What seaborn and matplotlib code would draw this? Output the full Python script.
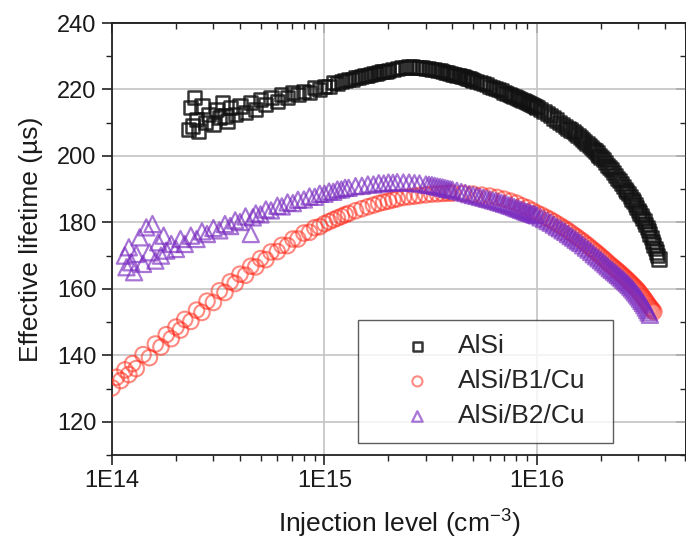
import numpy as np
import pandas as pd
import matplotlib
matplotlib.use("Agg")
import matplotlib.pyplot as plt
from matplotlib.ticker import MultipleLocator, NullFormatter, FixedLocator
import seaborn as sns

# ---------------- data ----------------
alsi_x = [2.30e14, 2.35e14, 2.40e14, 2.45e14, 2.50e14, 2.55e14, 2.65e14, 2.75e14, 2.85e14,
          3.0e14, 3.1e14, 3.2e14, 3.3e14, 3.4e14, 3.5e14, 3.6e14, 3.8e14, 4.0e14, 4.25e14,
          4.5e14, 4.75e14, 5.0e14, 5.3e14, 5.6e14, 6.0e14, 6.3e14, 6.7e14, 7.1e14, 7.5e14,
          8.0e14, 8.5e14, 9.0e14, 9.5e14,
          1.0e15, 1.05e15, 1.1e15, 1.15e15, 1.2e15, 1.25e15, 1.3e15, 1.35e15, 1.4e15, 1.45e15,
          1.5e15, 1.55e15, 1.6e15, 1.65e15, 1.7e15, 1.75e15, 1.8e15, 1.85e15, 1.9e15, 1.95e15,
          2.0e15, 2.1e15, 2.2e15, 2.3e15, 2.4e15,
          2.5e15, 2.6e15, 2.7e15, 2.8e15, 2.9e15, 3.0e15, 3.1e15, 3.2e15, 3.3e15, 3.4e15,
          3.5e15, 3.6e15, 3.7e15, 3.8e15, 3.9e15, 4.0e15, 4.1e15, 4.2e15, 4.3e15, 4.4e15,
          4.5e15, 4.6e15, 4.7e15, 4.8e15, 4.9e15, 5.0e15, 5.2e15, 5.4e15, 5.6e15, 5.8e15,
          6.0e15, 6.2e15, 6.4e15, 6.6e15, 6.8e15, 7.0e15, 7.2e15, 7.4e15, 7.6e15, 7.8e15,
          8.0e15, 8.2e15, 8.4e15, 8.6e15, 8.8e15, 9.0e15, 9.2e15, 9.4e15, 9.6e15, 9.8e15,
          1.0e16, 1.04e16, 1.08e16, 1.12e16, 1.16e16, 1.2e16, 1.24e16, 1.28e16, 1.32e16,
          1.36e16, 1.4e16, 1.44e16, 1.48e16, 1.52e16, 1.56e16, 1.6e16, 1.64e16, 1.68e16,
          1.72e16, 1.76e16, 1.8e16, 1.84e16, 1.88e16, 1.92e16, 1.96e16,
          2.0e16, 2.05e16, 2.1e16, 2.15e16, 2.2e16, 2.25e16, 2.3e16, 2.35e16, 2.4e16, 2.45e16,
          2.5e16, 2.55e16, 2.6e16, 2.65e16, 2.7e16, 2.75e16, 2.8e16, 2.85e16, 2.9e16, 2.95e16,
          3.0e16, 3.05e16, 3.1e16, 3.15e16, 3.2e16, 3.25e16, 3.3e16, 3.35e16, 3.4e16, 3.45e16,
          3.5e16, 3.55e16, 3.6e16, 3.65e16, 3.7e16, 3.75e16]
alsi_y = [208.0, 214.5, 209.0, 217.5, 211.0, 207.5, 215.0, 210.0, 212.5,
          209.5, 214.0, 211.5, 216.0, 212.0, 210.5, 214.5, 212.5, 215.0, 213.0,
          216.0, 214.0, 217.0, 215.5, 217.5, 216.5, 218.5, 217.5, 219.0, 218.5,
          219.5, 219.0, 220.5, 220.0,
          221.0, 221.0, 222.0, 221.8, 222.5, 222.7, 223.0, 223.1, 223.5, 223.7,
          224.0, 224.1, 224.3, 224.6, 224.8, 224.9, 225.0, 225.3, 225.4, 225.5,
          225.7, 226.0, 226.2, 226.5, 226.7,
          226.8, 226.75, 226.7, 226.6, 226.5, 226.4, 226.25, 226.1, 225.95, 225.8,
          225.6, 225.4, 225.2, 225.0, 224.8, 224.6, 224.45, 224.3, 224.15, 224.0,
          223.8, 223.6, 223.4, 223.2, 223.0, 222.8, 222.5, 222.1, 221.8, 221.4,
          221.0, 220.7, 220.3, 220.0, 219.6, 219.2, 218.9, 218.5, 218.2, 217.9,
          217.6, 217.3, 217.0, 216.7, 216.4, 216.1, 215.8, 215.5, 215.2, 214.9,
          214.6, 214.0, 213.4, 212.8, 212.1, 211.4, 210.8, 210.1, 209.5,
          208.9, 208.3, 207.8, 207.3, 206.7, 206.2, 205.6, 205.0, 204.3,
          203.7, 203.1, 202.5, 202.0, 201.5, 200.9, 200.2,
          199.5, 198.8, 198.0, 197.2, 196.5, 195.8, 195.0, 194.1, 193.3, 192.5,
          191.6, 190.8, 190.0, 189.3, 188.6, 187.8, 187.0, 186.2, 185.3, 184.5,
          183.6, 182.8, 182.0, 181.2, 180.4, 179.4, 178.4, 177.5, 176.5, 175.4,
          174.3, 173.2, 172.2, 171.1, 170.0, 169.0]

b1_x = [1.0e14, 1.05e14, 1.1e14, 1.15e14, 1.2e14, 1.25e14, 1.3e14, 1.4e14, 1.5e14, 1.6e14,
        1.7e14, 1.8e14, 1.9e14, 2.0e14, 2.1e14, 2.2e14, 2.35e14, 2.5e14, 2.65e14, 2.8e14,
        3.0e14, 3.2e14, 3.4e14, 3.6e14, 3.8e14, 4.0e14, 4.25e14, 4.5e14, 4.75e14, 5.0e14,
        5.3e14, 5.6e14, 6.0e14, 6.3e14, 6.7e14, 7.1e14, 7.5e14, 8.0e14, 8.5e14, 9.0e14, 9.5e14,
        1.0e15, 1.05e15, 1.1e15, 1.15e15, 1.2e15, 1.25e15, 1.3e15, 1.4e15, 1.5e15, 1.6e15,
        1.7e15, 1.8e15, 1.9e15, 2.0e15, 2.1e15, 2.2e15, 2.35e15, 2.5e15, 2.65e15, 2.8e15,
        3.0e15, 3.2e15, 3.4e15, 3.6e15, 3.8e15, 4.0e15, 4.5e15, 5.0e15, 5.5e15, 6.0e15,
        6.5e15, 7.0e15, 7.5e15, 8.0e15, 8.5e15, 9.0e15, 9.5e15,
        1.0e16, 1.05e16, 1.1e16, 1.15e16, 1.2e16, 1.25e16, 1.3e16, 1.35e16, 1.4e16, 1.45e16,
        1.5e16, 1.55e16, 1.6e16, 1.65e16, 1.7e16, 1.75e16, 1.8e16, 1.85e16, 1.9e16, 1.95e16,
        2.0e16, 2.05e16, 2.1e16, 2.15e16, 2.2e16, 2.25e16, 2.3e16, 2.35e16, 2.4e16, 2.45e16,
        2.5e16, 2.55e16, 2.6e16, 2.65e16, 2.7e16, 2.75e16, 2.8e16, 2.85e16, 2.9e16, 2.95e16,
        3.0e16, 3.05e16, 3.1e16, 3.15e16, 3.2e16, 3.25e16, 3.3e16, 3.35e16, 3.4e16, 3.45e16,
        3.5e16, 3.55e16]
b1_y = [130.2, 133.4, 132.4, 135.6, 134.2, 137.5, 136.0, 140.2, 139.3, 143.4,
        142.5, 146.2, 145.0, 148.5, 147.6, 150.8, 150.2, 153.6, 152.9, 156.3,
        155.9, 159.4, 158.9, 162.1, 161.6, 164.4, 164.1, 166.8, 166.6, 169.1,
        168.8, 171.1, 171.2, 173.1, 173.0, 175.0, 175.0, 176.8, 177.0, 178.4, 178.7,
        179.6, 180.2, 180.8, 181.3, 181.8, 182.3, 182.7, 183.5, 184.1, 184.7,
        185.2, 185.7, 186.1, 186.4, 186.8, 187.1, 187.5, 187.7, 187.9, 188.1,
        188.3, 188.5, 188.6, 188.7, 188.8, 188.8, 188.7, 188.5, 188.2, 187.9,
        187.5, 187.0, 186.4, 185.8, 185.0, 184.4, 183.6,
        182.8, 182.2, 181.5, 180.9, 180.2, 179.5, 178.8, 178.2, 177.5, 176.8,
        176.1, 175.5, 174.8, 174.2, 173.5, 172.9, 172.2, 171.6, 171.0, 170.4,
        169.8, 169.2, 168.6, 168.0, 167.4, 166.9, 166.4, 165.9, 165.4, 164.9,
        164.4, 163.9, 163.4, 162.9, 162.4, 161.9, 161.4, 160.9, 160.4, 159.9,
        159.4, 158.8, 158.2, 157.6, 157.0, 156.4, 155.8, 155.2, 154.6, 154.1,
        153.6, 153.1]

b2_x = [1.15e14, 1.17e14, 1.2e14, 1.23e14, 1.27e14, 1.3e14, 1.35e14, 1.4e14, 1.45e14, 1.5e14,
        1.55e14, 1.6e14, 1.65e14, 1.7e14, 1.75e14, 1.8e14, 1.9e14, 2.0e14, 2.1e14, 2.2e14,
        2.35e14, 2.5e14, 2.65e14, 2.8e14, 3.0e14, 3.2e14, 3.4e14, 3.6e14, 3.8e14, 4.0e14,
        4.25e14, 4.5e14, 4.6e14, 4.75e14, 5.0e14, 5.3e14, 5.6e14, 6.0e14, 6.3e14, 6.7e14,
        7.1e14, 7.5e14, 8.0e14, 8.5e14, 9.0e14, 9.5e14,
        1.0e15, 1.05e15, 1.1e15, 1.15e15, 1.2e15, 1.25e15, 1.3e15, 1.4e15, 1.5e15, 1.6e15,
        1.7e15, 1.8e15, 1.9e15, 2.0e15, 2.1e15, 2.2e15, 2.35e15, 2.5e15, 2.65e15, 2.8e15,
        3.0e15, 3.1e15, 3.2e15, 3.3e15, 3.4e15, 3.5e15, 3.6e15, 3.7e15, 3.8e15, 3.9e15,
        4.0e15, 4.2e15, 4.4e15, 4.6e15, 4.8e15, 5.0e15, 5.2e15, 5.4e15, 5.6e15, 5.8e15,
        6.0e15, 6.2e15, 6.4e15, 6.6e15, 6.8e15, 7.0e15, 7.2e15, 7.4e15, 7.6e15, 7.8e15,
        8.0e15, 8.2e15, 8.4e15, 8.6e15, 8.8e15, 9.0e15, 9.2e15, 9.4e15, 9.6e15, 9.8e15,
        1.0e16, 1.04e16, 1.08e16, 1.12e16, 1.16e16, 1.2e16, 1.24e16, 1.28e16, 1.32e16,
        1.36e16, 1.4e16, 1.44e16, 1.48e16, 1.52e16, 1.56e16, 1.6e16, 1.65e16, 1.7e16,
        1.75e16, 1.8e16, 1.85e16, 1.9e16, 1.95e16, 2.0e16, 2.05e16, 2.1e16, 2.15e16,
        2.2e16, 2.25e16, 2.3e16, 2.35e16, 2.4e16, 2.45e16, 2.5e16, 2.55e16, 2.6e16,
        2.65e16, 2.7e16, 2.75e16, 2.8e16, 2.85e16, 2.9e16, 2.95e16, 3.0e16, 3.05e16,
        3.1e16, 3.15e16, 3.2e16, 3.25e16, 3.3e16, 3.35e16, 3.4e16]
b2_y = [170.0, 166.5, 172.5, 168.0, 165.0, 170.5, 175.5, 167.5, 178.5, 171.0,
        179.5, 168.5, 174.0, 170.0, 176.0, 171.5, 173.5, 172.0, 175.0, 173.5,
        176.0, 175.0, 177.3, 176.5, 178.3, 177.6, 179.5, 178.9, 180.6, 180.1,
        181.8, 176.5, 181.5, 182.7, 182.4, 183.9, 183.6, 185.0, 184.8, 186.0,
        185.8, 186.8, 186.9, 187.8, 187.7, 188.6,
        188.6, 189.3, 189.2, 189.9, 189.9, 190.4, 190.4, 190.9, 191.0, 191.4,
        191.4, 191.8, 191.7, 192.0, 191.9, 192.1, 192.0, 192.0, 191.8, 191.7,
        191.4, 191.3, 191.2, 191.0, 190.8, 190.65, 190.5, 190.3, 190.1, 189.95,
        189.8, 189.5, 189.15, 188.85, 188.5, 188.2, 187.95, 187.65, 187.4, 187.1,
        186.9, 186.6, 186.4, 186.1, 185.9, 185.6, 185.4, 185.1, 184.9, 184.6,
        184.3, 184.1, 183.8, 183.6, 183.3, 183.1, 182.9, 182.7, 182.5, 182.3,
        182.1, 181.5, 181.0, 180.4, 179.9, 179.3, 178.7, 178.2, 177.6,
        177.1, 176.5, 175.9, 175.4, 174.8, 174.3, 173.8, 173.1, 172.4,
        171.8, 171.1, 170.4, 169.8, 169.2, 168.6, 168.0, 167.4, 166.8,
        166.2, 165.7, 165.2, 164.7, 164.2, 163.7, 163.2, 162.7, 162.2,
        161.7, 161.2, 160.65, 160.1, 159.5, 158.9, 158.3, 157.7, 157.05,
        156.4, 155.75, 155.1, 154.35, 153.6, 152.9, 152.2]

series_names = ["AlSi", "AlSi/B1/Cu", "AlSi/B2/Cu"]
x_ticks = [1e14, 1e15, 1e16]
x_tick_labels = ["1E14", "1E15", "1E16"]
y_ticks = [120, 140, 160, 180, 200, 220, 240]

# ---------------- style ----------------
sns.set_theme(style="ticks")
plt.rcParams["font.family"] = ["Liberation Sans", "DejaVu Sans"]
plt.rcParams["mathtext.default"] = "regular"

fig = plt.figure(figsize=(6.86, 5.42), dpi=100)
ax = fig.add_axes([112 / 686, 87 / 542, 573.5 / 686, 432 / 542])

sns.scatterplot(x=alsi_x, y=alsi_y, marker="s", s=90, facecolor="none",
                edgecolor="#111111", linewidth=1.8, alpha=0.85,
                label=series_names[0], ax=ax, zorder=3)
sns.scatterplot(x=b1_x, y=b1_y, marker="o", s=125, facecolor="none",
                edgecolor="#ff2a1a", linewidth=1.5, alpha=0.55,
                label=series_names[1], ax=ax, zorder=4)
sns.scatterplot(x=b2_x, y=b2_y, marker="^", s=135, facecolor="none",
                edgecolor="#7a2cc0", linewidth=1.6, alpha=0.65,
                label=series_names[2], ax=ax, zorder=5)

ax.set_xscale("log")
ax.set_xlim(1e14, 5e16)
ax.set_ylim(110, 240)
ax.set_xticks(x_ticks)
ax.set_xticklabels(x_tick_labels)
ax.yaxis.set_major_locator(FixedLocator(y_ticks))
ax.yaxis.set_minor_locator(MultipleLocator(10))

ax.grid(True, which="major", color="#c4c4c4", linewidth=1.2)
ax.grid(False, which="minor")
ax.set_axisbelow(True)

for sp in ax.spines.values():
    sp.set_visible(True)
    sp.set_color("#222222")
    sp.set_linewidth(1.3)

ax.tick_params(which="major", direction="out", length=7, width=1.2, color="#222222",
               labelsize=17, pad=4, labelcolor="#1a1a1a")
ax.tick_params(which="minor", direction="out", length=4, width=1.0, color="#222222")

secx = ax.secondary_xaxis("top")
secx.tick_params(which="major", direction="in", length=7, width=1.2, labeltop=False)
secx.tick_params(which="minor", direction="in", length=4, width=1.0)
secx.xaxis.set_major_formatter(NullFormatter())
secx.xaxis.set_minor_formatter(NullFormatter())
secy = ax.secondary_yaxis("right")
secy.yaxis.set_major_locator(FixedLocator(y_ticks))
secy.yaxis.set_minor_locator(MultipleLocator(10))
secy.tick_params(which="major", direction="in", length=7, width=1.2, labelright=False)
secy.tick_params(which="minor", direction="in", length=4, width=1.0)

ax.set_xlabel("Injection level (cm$^{-3}$)", fontsize=19, labelpad=11, color="#1a1a1a")
ax.set_ylabel("Effective lifetime (\u00b5s)", fontsize=19, labelpad=10, color="#1a1a1a")

leg = ax.legend(loc="lower left", bbox_to_anchor=(0.429, 0.028, 0.445, 0.28),
                mode="expand", borderaxespad=0, frameon=True, fancybox=False,
                edgecolor="#333333", fontsize=19, markerscale=0.65,
                handlelength=3.4, handletextpad=-0.17, borderpad=0.55,
                labelspacing=0.42)
leg.get_frame().set_linewidth(1.0)
leg.set_zorder(10)

fig.savefig("out.png", dpi=100)
